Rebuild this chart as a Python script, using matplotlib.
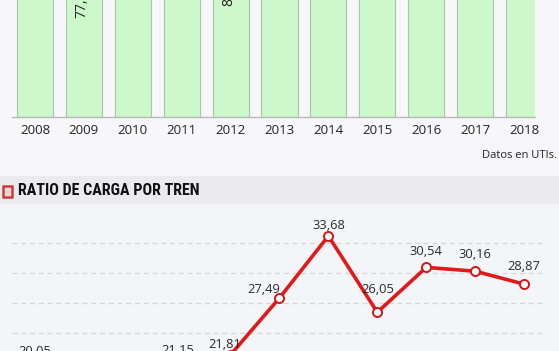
import matplotlib
matplotlib.use("Agg")
import matplotlib.pyplot as plt
from matplotlib.patches import Rectangle
from matplotlib import font_manager

# data
years = ["2008", "2009", "2010", "2011", "2012", "2013",
         "2014", "2015", "2016", "2017", "2018"]
# top chart (cut off in the picture): only 2009 and 2012 are partly readable
utis = [95.4, 77.52, 92.1, 90.3, 84.1, 96.8, 105.2, 98.6, 101.3, 99.7, 97.5]
# ratio de carga por tren
ratio = [20.05, 18.52, 19.07, 21.15, 21.81, 27.49, 33.68, 26.05, 30.54, 30.16, 28.87]

# label offsets in points (dx, dy) for the line chart
lbl_off = [(0, 10.5), (0, 12), (0, 12), (-2.5, 3), (-4, 3), (-11.5, 1.5),
           (0, 3), (0, 12), (0, 7), (0, 7), (0, 8)]

W, H = 559, 351
fig = plt.figure(figsize=(W / 100, H / 100), dpi=100)
fig.patch.set_facecolor("#f7f7f9")

FONT = ["Open Sans", "DejaVu Sans"]
names = set(f.name for f in font_manager.fontManager.ttflist)
TITLE_FONT = [n for n in ["Roboto Condensed", "Liberation Sans Narrow", "Roboto"] if n in names]
TITLE_FONT = (TITLE_FONT[:1] or ["DejaVu Sans"]) + ["DejaVu Sans"]


def px(x0, y0, x1, y1):
    # pixel box (top-left origin) -> figure rect
    return [x0 / W, 1 - y1 / H, (x1 - x0) / W, (y1 - y0) / H]


# ---- background pieces ----
fig.patches.append(Rectangle((0, 1 - 204 / H), 1, 28 / H, transform=fig.transFigure,
                             facecolor="#ebebed", edgecolor="none", zorder=0))
fig.patches.append(Rectangle((0, 0), 1, 1 - 204 / H, transform=fig.transFigure,
                             facecolor="#f4f5f8", edgecolor="none", zorder=0))
fig.patches.append(Rectangle((3 / W, 1 - 197 / H), 9 / W, 11 / H, transform=fig.transFigure,
                             facecolor="#f3d3d3", edgecolor="#c8403c", linewidth=1.8,
                             zorder=1))

# ---- top bar chart ----
ax1 = fig.add_axes(px(12, 0, 535, 117))
ax1.set_zorder(2)
ax1.set_facecolor("none")
pos = list(range(len(years)))
ax1.bar(pos, utis, width=0.74, color="#ccf8cc", edgecolor="#a9c4a9", linewidth=0.8)
ax1.set_xlim(-23 / 48.9, 10 + 11 / 48.9)
ax1.set_ylim(0, 63.9)
for i, v in enumerate(utis):
    ax1.text(i - 0.04, v - 4.2, ("%.2f" % v).replace(".", ","), rotation=90,
             ha="center", va="top", fontsize=10, color="#222222",
             family=FONT, clip_on=True)
for s in ["top", "left", "right"]:
    ax1.spines[s].set_visible(False)
ax1.spines["bottom"].set_color("#b8b8b8")
ax1.spines["bottom"].set_linewidth(1.0)
ax1.set_yticks([])
ax1.set_xticks(pos)
ax1.set_xticklabels(years, fontsize=9.5, color="#222222", family=FONT)
ax1.tick_params(axis="x", length=0, pad=5)

fig.text(557 / W, 1 - 155 / H, "Datos en UTIs.", ha="right", va="center",
         fontsize=8, color="#222222", family=FONT)

fig.text(18 / W, 1 - 190.5 / H, "RATIO DE CARGA POR TREN", ha="left", va="center",
         fontsize=11.5, fontweight="bold", color="#111111", family=TITLE_FONT)

# ---- bottom line chart ----
ax2 = fig.add_axes(px(12, 210, 547, 351))
ax2.set_zorder(2)
ax2.set_facecolor("none")
ax2.set_xlim(-23 / 48.9, 512 / 48.9)
ax2.set_ylim(33.68 - (351 - 236) / 10, 33.68 + (236 - 210) / 10)
ax2.set_yticks([24, 27, 30, 33])
ax2.grid(axis="y", color="#d6d6d6", linestyle=(0, (4, 3)), linewidth=0.9)
ax2.set_axisbelow(True)
ax2.plot(pos, ratio, color="#e01a1a", linewidth=2.6, marker="o", markersize=6.5,
         markerfacecolor="white", markeredgecolor="#d41515", markeredgewidth=1.4,
         clip_on=False, zorder=3)
for i, v in enumerate(ratio):
    dx, dy = lbl_off[i]
    ax2.annotate(("%.2f" % v).replace(".", ","), (i, v), xytext=(dx, dy),
                 textcoords="offset points", ha="center", va="bottom",
                 fontsize=9.3, color="#2a2a2a", family=FONT, annotation_clip=False)
for s in ax2.spines.values():
    s.set_visible(False)
ax2.set_xticks([])
ax2.tick_params(axis="y", length=0, labelleft=False)

fig.savefig("out.png", dpi=100, facecolor=fig.get_facecolor())
